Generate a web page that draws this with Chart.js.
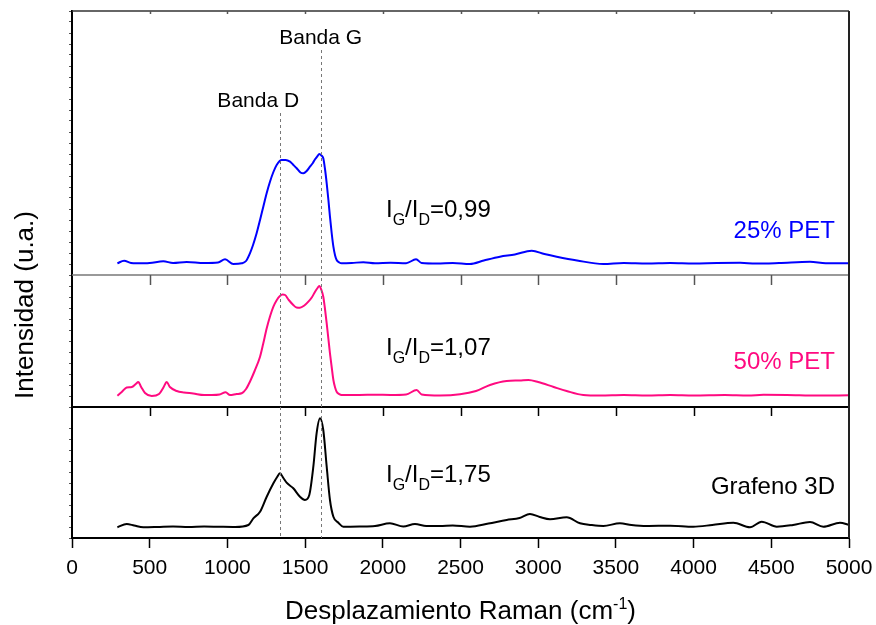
<!DOCTYPE html>
<html>
<head>
<meta charset="utf-8">
<script src="https://cdn.jsdelivr.net/npm/chart.js@4.4.1/dist/chart.umd.min.js"></script>
<style>
  body { margin: 0; background: #fff; }
</style>
</head>
<body>
<canvas id="ramanChart" width="876" height="625"></canvas>
<script>
// Raman spectra (intensity in arbitrary units)
const xTicks = [0, 500, 1000, 1500, 2000, 2500, 3000, 3500, 4000, 4500, 5000];

const shift25 = [292,335,380,416,500,588,650,738,850,940,985,1038,1092,1120,1145,1165,1188,1210,1231,1253,1274,1296,1317,1349,1375,1403,1425,1446,1470,1489,1510,1531,1550,1564,1580,1591,1605,1617,1628,1639,1650,1660,1671,1682,1693,1703,1720,1735,1800,1875,1950,2050,2150,2214,2250,2350,2450,2561,2650,2754,2850,2958,3040,3119,3250,3419,3550,3700,3850,4000,4150,4300,4400,4550,4749,4850,5000];
const int25 = [11.7,14.3,12,11.7,12,13.7,12,13,12,12.5,15.7,11,11.7,14,21.7,30,41.7,55,68.3,82,93.3,103,110,115,115,113.3,110,106.7,102.5,101.7,104,108.3,112,115.7,119,121,119.5,116.7,106,91.7,75,58.3,42,28.3,19.5,15,12.5,11.7,12,12.8,11.8,12.2,11.8,15.7,12,11.5,12,11,14.5,18.3,20.5,24.3,21,18.3,14.5,11,12,11.5,12,11.5,12,12.2,11.4,12,13.3,11.8,11.7];

const shift50 = [292,320,352,385,410,427,445,470,513,560,590,609,630,674,720,780,850,900,950,989,1017,1060,1092,1120,1145,1175,1210,1230,1253,1275,1296,1318,1338,1355,1371,1395,1424,1445,1467,1495,1521,1545,1564,1580,1591,1605,1617,1628,1639,1650,1660,1671,1682,1693,1703,1720,1735,1850,1950,2050,2150,2218,2250,2368,2497,2600,2690,2797,2880,2937,3000,3100,3183,3290,3400,3550,3700,3850,4000,4200,4350,4450,4600,4800,5000];
const int50 = [11.3,15,19.5,20,23,25,20,14,11,13,20,25,20,16,14.5,13.5,12,12,12.5,14.7,12,13,13.7,18,25.3,36,50.3,63,78.7,91,100.3,107,111,112.5,112,107,102,99.5,99.3,101.5,105.3,110,115.3,119,121,117,110.3,98,83.7,68,53.7,40,27,19.5,15.3,12.8,12,12,12.3,12,12.5,17,12.5,11.5,12.7,16,22,26,26.5,27,25,20,16,12,11.5,12,11.5,12,11.5,12,11.5,12.2,12,11.4,11.7];

const shiftG = [292,352,400,459,550,650,750,850,950,1050,1135,1167,1210,1253,1296,1320,1338,1360,1381,1424,1467,1499,1527,1553,1574,1596,1617,1639,1660,1682,1714,1746,1850,1950,2046,2132,2207,2280,2368,2450,2561,2680,2797,2880,2947,3010,3076,3183,3269,3340,3419,3526,3600,3698,3850,3998,4120,4256,4363,4438,4535,4640,4749,4835,4942,5000];
const intG = [10.7,14,12.5,10.7,11,11.5,11,11.5,11.2,11,13,19.7,26.3,41.3,54.7,61,64.7,60,55.3,49.7,41.3,38,43,71.3,104.7,119.7,108,71.3,38,21.3,15.3,11.3,11.5,12,14.7,11.5,14,12,12,12.5,11.3,14.5,18,20,24,21,18.7,20.7,14.7,13,12,14.7,13,12,12.3,11.3,13,15.3,10.7,16.3,11.3,13,16,11.3,15.3,13];

const sampleNames = ['25% PET', '50% PET', 'Grafeno 3D'];
const ratios = ['0,99', '1,07', '1,75'];
const bandShifts = [1340, 1600];
const bandNames = ['Banda D', 'Banda G'];

const FONT = "'Liberation Sans', Arial, sans-serif";
const colors = ['#0000ff', '#ff0a80', '#000000'];

const toPts = (xs, ys) => xs.map((v, i) => ({ x: v, y: ys[i] }));

// frame, inner ticks, band lines and labels
const decor = {
  id: 'decor',
  afterDraw(chart) {
    const { ctx, chartArea: a, scales } = chart;
    const x = scales.x;
    const panels = [scales.yTop, scales.yMid, scales.yBot];
    ctx.save();

    // top border and separators
    ctx.lineWidth = 1.5;
    ctx.strokeStyle = '#333';
    ctx.beginPath(); ctx.moveTo(a.left, a.top); ctx.lineTo(a.right, a.top); ctx.stroke();
    ctx.strokeStyle = '#777';
    ctx.lineWidth = 1.5;
    ctx.beginPath(); ctx.moveTo(a.left, panels[0].bottom); ctx.lineTo(a.right, panels[0].bottom); ctx.stroke();
    ctx.strokeStyle = '#000';
    ctx.lineWidth = 2;
    ctx.beginPath(); ctx.moveTo(a.left, panels[1].bottom); ctx.lineTo(a.right, panels[1].bottom); ctx.stroke();
    ctx.strokeStyle = '#222';
    ctx.beginPath(); ctx.moveTo(a.right, a.top); ctx.lineTo(a.right, a.bottom); ctx.stroke();

    // inner tick marks
    ctx.lineWidth = 1.5;
    xTicks.slice(1, -1).forEach(v => {
      const px = Math.round(x.getPixelForValue(v)) + 0.5;
      ctx.strokeStyle = '#555';
      ctx.beginPath(); ctx.moveTo(px, a.top); ctx.lineTo(px, a.top + 3); ctx.stroke();
      ctx.beginPath(); ctx.moveTo(px, panels[0].bottom); ctx.lineTo(px, panels[0].bottom + 10); ctx.stroke();
      ctx.strokeStyle = '#000';
      ctx.beginPath(); ctx.moveTo(px, panels[1].bottom); ctx.lineTo(px, panels[1].bottom + 9); ctx.stroke();
    });

    // band lines
    const lineTops = [113, 50];
    const labelBase = [107, 44];
    const labelShift = [-22, 0];
    ctx.setLineDash([3, 3]);
    ctx.strokeStyle = '#777';
    ctx.lineWidth = 1;
    bandShifts.forEach((b, i) => {
      const px = Math.round(x.getPixelForValue(b)) + 0.5;
      ctx.beginPath(); ctx.moveTo(px, lineTops[i]); ctx.lineTo(px, a.bottom); ctx.stroke();
    });
    ctx.setLineDash([]);
    ctx.fillStyle = '#000';
    ctx.font = '21px ' + FONT;
    ctx.textAlign = 'center';
    ctx.textBaseline = 'alphabetic';
    bandShifts.forEach((b, i) => {
      ctx.fillText(bandNames[i], x.getPixelForValue(b) + labelShift[i], labelBase[i]);
    });

    // IG/ID ratios
    const ratioBase = [217, 355, 482];
    ratios.forEach((r, i) => {
      let cx = 386;
      const by = ratioBase[i];
      const part = (t, size, dy) => {
        ctx.font = size + 'px ' + FONT;
        ctx.textAlign = 'left';
        ctx.fillText(t, cx, by + dy);
        cx += ctx.measureText(t).width;
      };
      ctx.fillStyle = '#000';
      part('I', 24, 0); part('G', 16, 8); part('/I', 24, 0); part('D', 16, 8); part('=' + r, 24, 0);
    });

    // sample names
    const nameBase = [238, 369, 494];
    ctx.font = '24px ' + FONT;
    ctx.textAlign = 'right';
    sampleNames.forEach((n, i) => {
      ctx.fillStyle = colors[i];
      ctx.fillText(n, 835, nameBase[i]);
    });

    // axis titles
    ctx.fillStyle = '#000';
    ctx.save();
    ctx.translate(33, 305);
    ctx.rotate(-Math.PI / 2);
    ctx.font = '26px ' + FONT;
    ctx.textAlign = 'center';
    ctx.fillText('Intensidad (u.a.)', 0, 0);
    ctx.restore();

    const main = 'Desplazamiento Raman (cm';
    ctx.font = '26px ' + FONT;
    const w1 = ctx.measureText(main).width;
    const w3 = ctx.measureText(')').width;
    ctx.font = '16px ' + FONT;
    const w2 = ctx.measureText('-1').width;
    let tx = (a.left + a.right) / 2 - (w1 + w2 + w3) / 2;
    const ty = 619;
    ctx.textAlign = 'left';
    ctx.font = '26px ' + FONT;
    ctx.fillText(main, tx, ty); tx += w1;
    ctx.font = '16px ' + FONT;
    ctx.fillText('-1', tx, ty - 10); tx += w2;
    ctx.font = '26px ' + FONT;
    ctx.fillText(')', tx, ty);
    ctx.restore();
  }
};

const yPanel = (max) => ({
  type: 'linear',
  position: 'left',
  stack: 'panels',
  stackWeight: max,
  min: 0,
  max: max,
  ticks: { display: false, stepSize: 11 },
  grid: { drawOnChartArea: false, drawTicks: true, tickLength: 3, color: '#555' },
  border: { color: '#000', width: 2 },
  afterFit: s => { s.width = 72; }
});

new Chart(document.getElementById('ramanChart'), {
  type: 'line',
  data: {
    datasets: [
      { label: sampleNames[0], data: toPts(shift25, int25), yAxisID: 'yTop', borderColor: colors[0] },
      { label: sampleNames[1], data: toPts(shift50, int50), yAxisID: 'yMid', borderColor: colors[1] },
      { label: sampleNames[2], data: toPts(shiftG, intG), yAxisID: 'yBot', borderColor: colors[2] }
    ]
  },
  options: {
    responsive: false,
    animation: false,
    layout: { padding: { left: 0, top: 11, right: 27, bottom: 0 } },
    elements: {
      point: { radius: 0 },
      line: { borderWidth: 2, cubicInterpolationMode: 'monotone', fill: false }
    },
    plugins: { legend: { display: false }, tooltip: { enabled: false } },
    scales: {
      x: {
        type: 'linear',
        min: 0,
        max: 5000,
        afterBuildTicks: s => { s.ticks = xTicks.map(v => ({ value: v })); },
        ticks: {
          font: { family: FONT, size: 21 }, color: '#000', padding: 8,
          autoSkip: false, maxRotation: 0,
          callback: v => String(v)
        },
        grid: { drawOnChartArea: false, drawTicks: true, tickLength: 10, color: '#000', tickWidth: 1.5 },
        border: { color: '#000', width: 2 },
        afterFit: s => { s.height = 87; s.paddingLeft = 0; s.paddingRight = 0; }
      },
      yBot: yPanel(131),
      yMid: yPanel(132),
      yTop: yPanel(264)
    }
  },
  plugins: [decor]
});
</script>
</body>
</html>
